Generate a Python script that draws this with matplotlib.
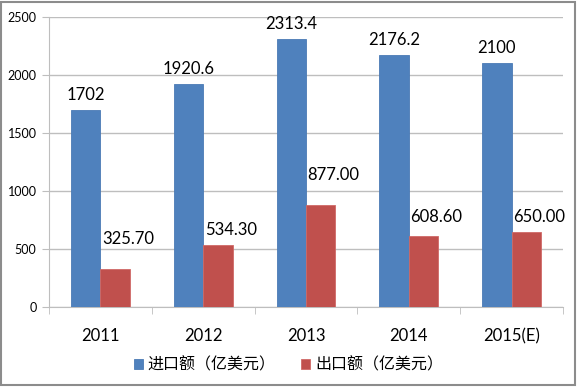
import numpy as np
import matplotlib
matplotlib.use("Agg")
import matplotlib.pyplot as plt
from matplotlib.patches import Rectangle

plt.rcParams['font.family'] = ['Lato', 'Noto Sans CJK SC', 'DejaVu Sans']

years = ['2011', '2012', '2013', '2014', '2015(E)']
imports = [1702, 1920.6, 2313.4, 2176.2, 2100]
exports = [325.70, 534.30, 877.00, 608.60, 650.00]
import_labels = ['1702', '1920.6', '2313.4', '2176.2', '2100']
export_labels = ['325.70', '534.30', '877.00', '608.60', '650.00']
series_names = ['进口额（亿美元）', '出口额（亿美元）']

# label lift above the red bars (px), as placed in the original
export_gap = [25, 10, 25, 14, 10]

blue = '#4F81BD'
red = '#C0504D'
grid = '#BEBEBE'

fig = plt.figure(figsize=(5.77, 3.87), dpi=100)
ax = fig.add_axes([49/577, 1-307/387, 514/577, 290/387])

x = np.arange(len(years))
w = 0.285
b1 = ax.bar(x - 0.143, imports, w, color=blue, edgecolor='#4A7AB5', linewidth=0.6, label=series_names[0], zorder=3)
b2 = ax.bar(x + 0.143, exports, w, color=red, edgecolor='#D06A67', linewidth=0.6, label=series_names[1], zorder=3)

px = 72 / 100
for i in range(len(years)):
    ax.annotate(import_labels[i], (x[i] - 0.143, imports[i]), xytext=(0, 10*px),
                textcoords='offset points', ha='center', va='baseline', fontsize=12)
    ax.annotate(export_labels[i], (x[i] + 0.143, exports[i]), xytext=(13*px, export_gap[i]*px),
                textcoords='offset points', ha='center', va='baseline', fontsize=12)

ax.set_xlim(-0.5, 4.5)
ax.set_ylim(0, 2500)
ax.set_yticks(np.arange(0, 2501, 500))
ax.yaxis.grid(True, color=grid, linewidth=1, zorder=0)
ax.set_axisbelow(True)

ax.set_xticks(x)
ax.set_xticklabels(years, fontsize=12)
ax.set_xticks(np.arange(-0.5, 4.6, 1), minor=True)
ax.tick_params(axis='x', which='major', length=0, pad=15)
ax.tick_params(axis='x', which='minor', length=5, color=grid, direction='out')
ax.tick_params(axis='y', length=5, color=grid, labelsize=9, pad=4)

for s in ['top', 'right']:
    ax.spines[s].set_visible(False)
ax.spines['left'].set_color(grid)
ax.spines['bottom'].set_color(grid)

fig.legend(handles=[b1, b2], labels=series_names, loc='center',
           bbox_to_anchor=(0.5, 1-365/387), ncol=2, frameon=False,
           handlelength=0.55, handleheight=0.55, handletextpad=0.3, columnspacing=1.6,
           prop={'family': ['Noto Sans CJK SC', 'DejaVu Sans'], 'size': 11.5})

fig.patches.append(Rectangle((0.002, 0.004), 0.994, 0.992, transform=fig.transFigure,
                             fill=False, edgecolor='#8C8C8C', linewidth=1.5))

fig.savefig('out.png', dpi=100, facecolor='white')
